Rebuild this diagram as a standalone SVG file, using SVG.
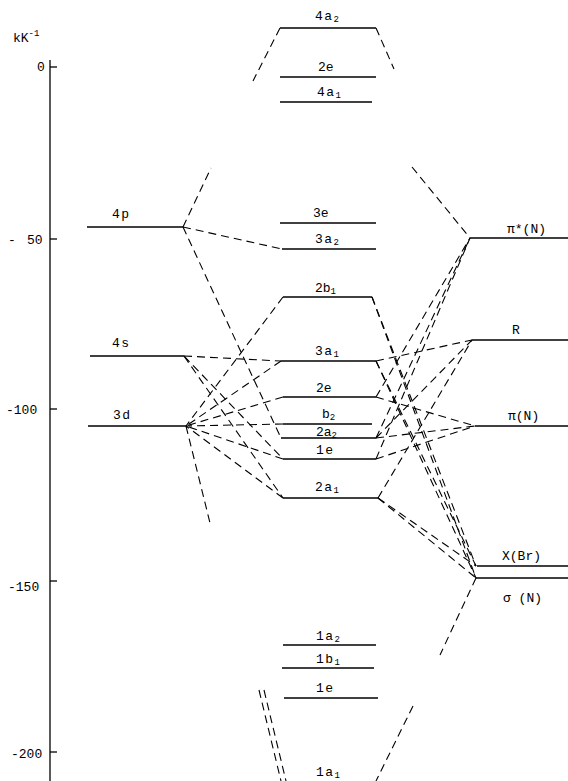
<svg xmlns="http://www.w3.org/2000/svg" width="568" height="781" viewBox="0 0 568 781">
<style>
.lv{stroke:#000;stroke-width:1.6;fill:none}
.ax{stroke:#000;stroke-width:1.3;fill:none}
.d{stroke:#000;stroke-width:1.1;fill:none;stroke-dasharray:8 5}
text{font-family:"Liberation Mono","DejaVu Sans Mono",monospace;font-size:13px;fill:#000}
.sub{font-size:9px}
.sp{letter-spacing:1.5px}
</style>
<rect width="568" height="781" fill="#fff"/>
<g id="axis">
<line class="ax" x1="50" y1="60" x2="50" y2="781"/>
<line class="ax" x1="50" y1="67" x2="57" y2="67"/>
<line class="ax" x1="50" y1="239" x2="57" y2="239"/>
<line class="ax" x1="50" y1="409" x2="57" y2="409"/>
<line class="ax" x1="50" y1="581" x2="57" y2="581"/>
<line class="ax" x1="50" y1="752" x2="57" y2="752"/>
<text x="13" y="42">kK<tspan class="sub" dy="-6">-1</tspan></text>
<text x="37" y="71">0</text>
<text x="8" y="244">-</text><text x="27" y="244">50</text>
<text x="6" y="414">-100</text>
<text x="8" y="591">-150</text>
<text x="11" y="758">-200</text>
</g>
<g id="connectors">
<line class="d" x1="280" y1="28" x2="253" y2="81"/>
<line class="d" x1="376" y1="28" x2="394" y2="69"/>
<line class="d" x1="183" y1="227" x2="211" y2="168"/>
<line class="d" x1="412" y1="167" x2="470" y2="238"/>
<line class="d" x1="183" y1="227" x2="282" y2="249"/>
<line class="d" x1="183" y1="227" x2="281" y2="438"/>
<line class="d" x1="283" y1="297" x2="186" y2="426"/>
<line class="d" x1="372" y1="297" x2="476" y2="566"/>
<line class="d" x1="372" y1="297" x2="476" y2="578"/>
<line class="d" x1="184" y1="356" x2="281" y2="361"/>
<line class="d" x1="184" y1="356" x2="283" y2="459"/>
<line class="d" x1="184" y1="356" x2="283" y2="498"/>
<line class="d" x1="281" y1="361" x2="186" y2="426"/>
<line class="d" x1="283" y1="397" x2="186" y2="426"/>
<line class="d" x1="283" y1="424" x2="186" y2="426"/>
<line class="d" x1="283" y1="459" x2="186" y2="426"/>
<line class="d" x1="283" y1="498" x2="186" y2="426"/>
<line class="d" x1="186" y1="426" x2="210" y2="523"/>
<line class="d" x1="376" y1="361" x2="472" y2="340"/>
<line class="d" x1="376" y1="361" x2="476" y2="566"/>
<line class="d" x1="376" y1="361" x2="476" y2="578"/>
<line class="d" x1="376" y1="397" x2="470" y2="238"/>
<line class="d" x1="376" y1="397" x2="475" y2="426"/>
<line class="d" x1="376" y1="438" x2="475" y2="426"/>
<line class="d" x1="376" y1="438" x2="472" y2="340"/>
<line class="d" x1="376" y1="438" x2="470" y2="238"/>
<line class="d" x1="376" y1="459" x2="475" y2="426"/>
<line class="d" x1="376" y1="459" x2="470" y2="238"/>
<line class="d" x1="378" y1="498" x2="472" y2="340"/>
<line class="d" x1="378" y1="498" x2="476" y2="566"/>
<line class="d" x1="378" y1="498" x2="476" y2="578"/>
<line class="d" x1="476" y1="578" x2="440" y2="655"/>
<line class="d" x1="259" y1="690" x2="281" y2="781"/>
<line class="d" x1="264" y1="690" x2="286" y2="781"/>
<line class="d" x1="413" y1="706" x2="376" y2="781"/>
</g>
<g id="n-4p"><line class="lv" x1="87" y1="227" x2="183" y2="227"/><text class="sp" x="112" y="218">4p</text></g>
<g id="n-4s"><line class="lv" x1="90" y1="356" x2="184" y2="356"/><text class="sp" x="112" y="347">4s</text></g>
<g id="n-3d"><line class="lv" x1="88" y1="426" x2="186" y2="426"/><text class="sp" x="113" y="419">3d</text></g>
<g id="n-4a2"><line class="lv" x1="280" y1="28" x2="376" y2="28"/><text class="sp" x="315" y="20">4a<tspan class="sub" dy="2">2</tspan></text></g>
<g id="n-2e-top"><line class="lv" x1="280" y1="77" x2="376" y2="77"/><text x="318" y="71">2e</text></g>
<g id="n-4a1"><line class="lv" x1="280" y1="102" x2="372" y2="102"/><text class="sp" x="317" y="96">4a<tspan class="sub" dy="2">1</tspan></text></g>
<g id="n-3e"><line class="lv" x1="280" y1="223" x2="376" y2="223"/><text x="313" y="217">3e</text></g>
<g id="n-3a2"><line class="lv" x1="282" y1="249" x2="376" y2="249"/><text class="sp" x="315" y="243">3a<tspan class="sub" dy="2">2</tspan></text></g>
<g id="n-2b1"><line class="lv" x1="283" y1="297" x2="372" y2="297"/><text x="315" y="292">2b<tspan class="sub" dy="2">1</tspan></text></g>
<g id="n-3a1"><line class="lv" x1="281" y1="361" x2="376" y2="361"/><text class="sp" x="315" y="355">3a<tspan class="sub" dy="2">1</tspan></text></g>
<g id="n-2e"><line class="lv" x1="283" y1="397" x2="376" y2="397"/><text x="316" y="392">2e</text></g>
<g id="n-b2"><line class="lv" x1="283" y1="424" x2="372" y2="424"/><text x="322" y="418">b<tspan class="sub" dy="2">2</tspan></text></g>
<g id="n-2a2"><line class="lv" x1="281" y1="438" x2="376" y2="438"/><text x="316" y="436">2a<tspan class="sub" dy="2">2</tspan></text></g>
<g id="n-1e"><line class="lv" x1="283" y1="459" x2="376" y2="459"/><text class="sp" x="316" y="454">1e</text></g>
<g id="n-2a1"><line class="lv" x1="283" y1="498" x2="378" y2="498"/><text class="sp" x="315" y="491">2a<tspan class="sub" dy="2">1</tspan></text></g>
<g id="n-1a2"><line class="lv" x1="283" y1="645" x2="376" y2="645"/><text class="sp" x="316" y="640">1a<tspan class="sub" dy="2">2</tspan></text></g>
<g id="n-1b1"><line class="lv" x1="282" y1="668" x2="374" y2="668"/><text class="sp" x="316" y="663">1b<tspan class="sub" dy="2">1</tspan></text></g>
<g id="n-1e-low"><line class="lv" x1="284" y1="698" x2="378" y2="698"/><text class="sp" x="316" y="692">1e</text></g>
<g id="n-1a1"><text class="sp" x="316" y="776">1a<tspan class="sub" dy="2">1</tspan></text></g>
<g id="n-piStarN"><line class="lv" x1="470" y1="238" x2="568" y2="238"/><text x="507" y="233">π*(N)</text></g>
<g id="n-R"><line class="lv" x1="472" y1="340" x2="568" y2="340"/><text x="512" y="334">R</text></g>
<g id="n-piN"><line class="lv" x1="475" y1="426" x2="568" y2="426"/><text x="508" y="420">π(N)</text></g>
<g id="n-XBr"><line class="lv" x1="477" y1="566" x2="568" y2="566"/><text x="502" y="560">X(Br)</text></g>
<g id="n-sigmaN"><line class="lv" x1="476" y1="578" x2="568" y2="578"/><text x="503" y="602">σ (N)</text></g>
</svg>
